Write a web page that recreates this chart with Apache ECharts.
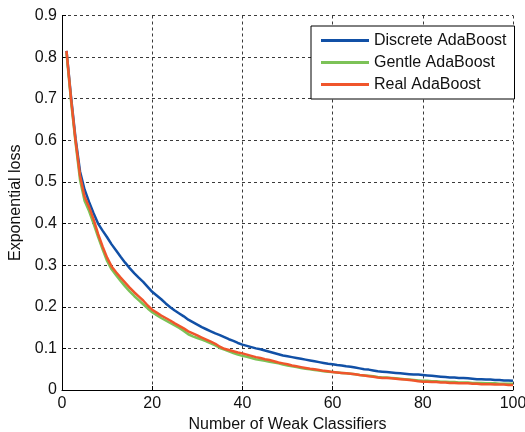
<!DOCTYPE html>
<html>
<head>
<meta charset="utf-8">
<script src="https://cdn.jsdelivr.net/npm/echarts@6/dist/echarts.min.js"></script>
<style>
  html, body { margin: 0; padding: 0; background: #fff; }
  #chart { width: 525px; height: 432px; }
</style>
</head>
<body>
<div id="chart"></div>
<script>
// Exponential loss after each boosting round (rounds 1..100)
const seriesNames = ['Discrete AdaBoost', 'Gentle AdaBoost', 'Real AdaBoost'];

const discreteLoss = [
  0.815, 0.705, 0.605, 0.525, 0.482, 0.452, 0.425, 0.400, 0.383, 0.367,
  0.350, 0.335, 0.320, 0.306, 0.293, 0.281, 0.270, 0.260, 0.248, 0.236,
  0.227, 0.218, 0.208, 0.199, 0.191, 0.184, 0.177, 0.169, 0.163, 0.157,
  0.151, 0.146, 0.141, 0.136, 0.132, 0.127, 0.122, 0.118, 0.113, 0.109,
  0.106, 0.103, 0.100, 0.098, 0.095, 0.092, 0.089, 0.086, 0.083, 0.081,
  0.079, 0.077, 0.075, 0.073, 0.071, 0.069, 0.067, 0.065, 0.063, 0.062,
  0.060, 0.059, 0.057, 0.056, 0.054, 0.052, 0.050, 0.049, 0.047, 0.045,
  0.044, 0.043, 0.042, 0.041, 0.040, 0.039, 0.038, 0.037, 0.037, 0.036,
  0.035, 0.034, 0.033, 0.032, 0.031, 0.030, 0.030, 0.029, 0.029, 0.028,
  0.027, 0.026, 0.026, 0.025, 0.025, 0.024, 0.024, 0.023, 0.023, 0.022
];

const gentleLoss = [
  0.810, 0.695, 0.595, 0.505, 0.455, 0.430, 0.400, 0.368, 0.338, 0.310,
  0.290, 0.276, 0.262, 0.249, 0.237, 0.226, 0.216, 0.206, 0.196, 0.187,
  0.180, 0.173, 0.167, 0.161, 0.155, 0.149, 0.142, 0.134, 0.129, 0.125,
  0.121, 0.117, 0.112, 0.107, 0.101, 0.097, 0.093, 0.089, 0.085, 0.082,
  0.080, 0.077, 0.074, 0.072, 0.070, 0.068, 0.066, 0.064, 0.061, 0.059,
  0.057, 0.055, 0.053, 0.051, 0.050, 0.048, 0.047, 0.045, 0.044, 0.043,
  0.042, 0.041, 0.040, 0.039, 0.038, 0.036, 0.035, 0.034, 0.033, 0.031,
  0.030, 0.030, 0.029, 0.028, 0.027, 0.026, 0.025, 0.024, 0.023, 0.022,
  0.022, 0.021, 0.021, 0.020, 0.020, 0.019, 0.019, 0.018, 0.018, 0.018,
  0.017, 0.017, 0.017, 0.016, 0.016, 0.016, 0.015, 0.015, 0.015, 0.015
];

const realLoss = [
  0.815, 0.700, 0.600, 0.515, 0.465, 0.440, 0.410, 0.375, 0.345, 0.318,
  0.297, 0.283, 0.270, 0.258, 0.246, 0.235, 0.225, 0.215, 0.203, 0.193,
  0.186, 0.179, 0.173, 0.167, 0.160, 0.154, 0.148, 0.141, 0.136, 0.131,
  0.126, 0.121, 0.116, 0.111, 0.104, 0.099, 0.096, 0.093, 0.090, 0.088,
  0.085, 0.082, 0.079, 0.077, 0.074, 0.072, 0.069, 0.066, 0.064, 0.062,
  0.059, 0.057, 0.055, 0.053, 0.051, 0.050, 0.048, 0.046, 0.045, 0.043,
  0.042, 0.041, 0.040, 0.039, 0.038, 0.036, 0.035, 0.033, 0.032, 0.030,
  0.029, 0.029, 0.028, 0.027, 0.026, 0.025, 0.024, 0.023, 0.021, 0.020,
  0.020, 0.019, 0.019, 0.018, 0.018, 0.017, 0.017, 0.016, 0.016, 0.016,
  0.015, 0.015, 0.014, 0.014, 0.014, 0.013, 0.013, 0.013, 0.012, 0.012
];

const lossSeries = [discreteLoss, gentleLoss, realLoss];
const lineColors = ['#1150a6', '#7cc257', '#f0552b'];

const fontFamily = '"Liberation Sans", Arial, Helvetica, sans-serif';
const textColor = '#111';
const gridLine = { show: true, lineStyle: { color: '#3a3a3a', type: [3, 3], width: 1 } };

const chart = echarts.init(document.getElementById('chart'), null, { renderer: 'canvas' });

chart.setOption({
  animation: false,
  backgroundColor: '#ffffff',
  textStyle: { fontFamily: fontFamily },
  grid: {
    left: 62, right: 12, top: 15.5, bottom: 42,
    containLabel: false,
    outerBoundsMode: 'none'
  },
  legend: {
    data: seriesNames,
    orient: 'vertical',
    left: 311,
    top: 26,
    padding: [6, 8, 6, 10],
    itemGap: 5,
    itemWidth: 48,
    itemHeight: 3,
    icon: 'rect',
    backgroundColor: '#ffffff',
    borderColor: '#000000',
    borderWidth: 1,
    borderRadius: 0,
    textStyle: { fontSize: 16, color: textColor, fontFamily: fontFamily, lineHeight: 17 }
  },
  xAxis: {
    type: 'value',
    min: 0,
    max: 100,
    interval: 20,
    name: 'Number of Weak Classifiers',
    nameLocation: 'middle',
    nameGap: 25,
    nameTextStyle: { fontSize: 16, color: textColor, fontFamily: fontFamily },
    axisLine: { show: true, onZero: false, lineStyle: { color: '#000', width: 1 } },
    axisTick: { show: true, inside: true, length: 4, lineStyle: { color: '#000' } },
    axisLabel: { fontSize: 16, color: textColor, margin: 6, fontFamily: fontFamily },
    splitLine: gridLine
  },
  yAxis: {
    type: 'value',
    min: 0,
    max: 0.9,
    interval: 0.1,
    name: 'Exponential loss',
    nameLocation: 'middle',
    nameGap: 35,
    nameTextStyle: { fontSize: 16, color: textColor, fontFamily: fontFamily },
    axisLine: { show: true, onZero: false, lineStyle: { color: '#000', width: 1 } },
    axisTick: { show: true, inside: true, length: 4, lineStyle: { color: '#000' } },
    axisLabel: { fontSize: 16, color: textColor, margin: 5, fontFamily: fontFamily },
    splitLine: gridLine
  },
  series: seriesNames.map((name, k) => ({
    name: name,
    type: 'line',
    data: lossSeries[k].map((v, i) => [i + 1, v]),
    showSymbol: false,
    symbol: 'none',
    smooth: false,
    color: lineColors[k],
    lineStyle: { color: lineColors[k], width: 2.5 },
    z: 3 + k
  }))
});
</script>
</body>
</html>
